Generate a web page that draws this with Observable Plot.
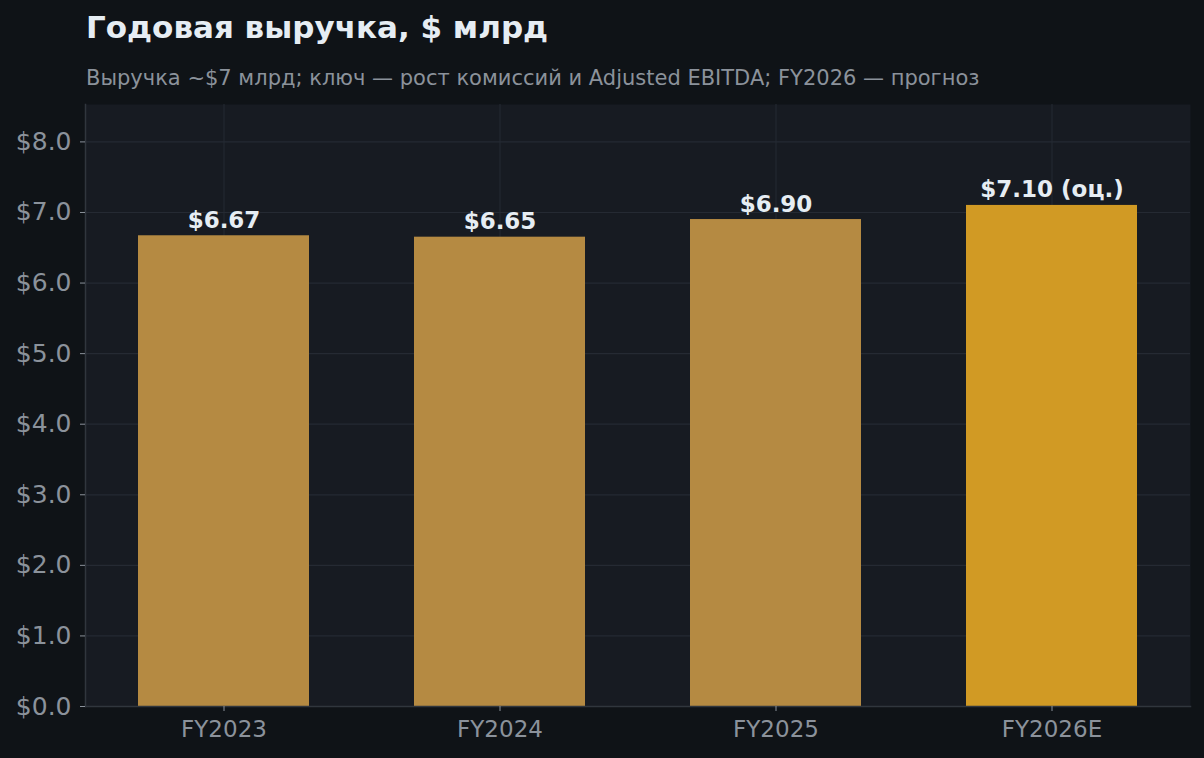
<!DOCTYPE html>
<html>
<head>
<meta charset="utf-8">
<script src="https://cdn.jsdelivr.net/npm/d3@7"></script>
<script src="https://cdn.jsdelivr.net/npm/@observablehq/plot@0.6"></script>
<style>
  html, body { margin: 0; padding: 0; background: #0f1317; }
  body { width: 1204px; height: 758px; overflow: hidden; font-family: "DejaVu Sans", sans-serif; }
  #head { position: relative; height: 100px; }
  #title { position: absolute; left: 86px; top: 9px; font-size: 31px; font-weight: bold; color: #e6edf3; white-space: nowrap; }
  #subtitle { position: absolute; left: 86px; top: 66px; font-size: 21px; color: #8b929b; white-space: nowrap; }
  #chart svg { display: block; }
</style>
</head>
<body>
<div id="head">
  <div id="title">Годовая выручка, $ млрд</div>
  <div id="subtitle">Выручка ~$7 млрд; ключ — рост комиссий и Adjusted EBITDA; FY2026 — прогноз</div>
</div>
<div id="chart"></div>
<script>
const years = ["FY2023", "FY2024", "FY2025", "FY2026E"];
const revenue = [6.67, 6.65, 6.90, 7.10];
const valueLabels = ["$6.67", "$6.65", "$6.90", "$7.10 (оц.)"];
const isForecast = [false, false, false, true];
const yTicks = [0, 1, 2, 3, 4, 5, 6, 7, 8];

const data = years.map((year, i) => ({
  year, value: revenue[i], label: valueLabels[i], forecast: isForecast[i]
}));

const gridColor = "#252a33";
const spineColor = "#30363d";

const chart = Plot.plot({
  width: 1204,
  height: 658,
  marginLeft: 85,
  marginRight: 14,
  marginTop: 4,
  marginBottom: 52,
  style: { background: "transparent", color: "#8b929b", fontFamily: "DejaVu Sans, sans-serif", fontSize: "23px", overflow: "visible" },
  x: { domain: years, paddingInner: 0.38, paddingOuter: 0.185, label: null },
  y: { domain: [0, 8.53], label: null },
  color: { type: "identity" },
  marks: [
    Plot.frame({ fill: "#171b22", stroke: null }),
    Plot.gridX(years, { stroke: gridColor, strokeOpacity: 1, strokeWidth: 1 }),
    Plot.gridY(yTicks, { stroke: gridColor, strokeOpacity: 1, strokeWidth: 1.2 }),
    Plot.barY(data, { x: "year", y: "value", fill: d => d.forecast ? "#d19a24" : "#b58a42" }),
    Plot.text(data, { x: "year", y: "value", text: "label", lineAnchor: "bottom", dy: -8, fontWeight: "bold", fontSize: 23, fill: "#e6edf3" }),
    Plot.frame({ anchor: "left", stroke: spineColor, strokeWidth: 1.5 }),
    Plot.frame({ anchor: "bottom", stroke: spineColor, strokeWidth: 1.5 }),
    Plot.axisY(yTicks, { tickFormat: d => "$" + d.toFixed(1), tickSize: 5, tickPadding: 9, stroke: "#8b929b", fontSize: 25 }),
    Plot.axisX({ tickSize: 5, tickPadding: 9, stroke: "#8b929b", fontSize: 23 })
  ]
});
document.getElementById("chart").appendChild(chart);
</script>
</body>
</html>
